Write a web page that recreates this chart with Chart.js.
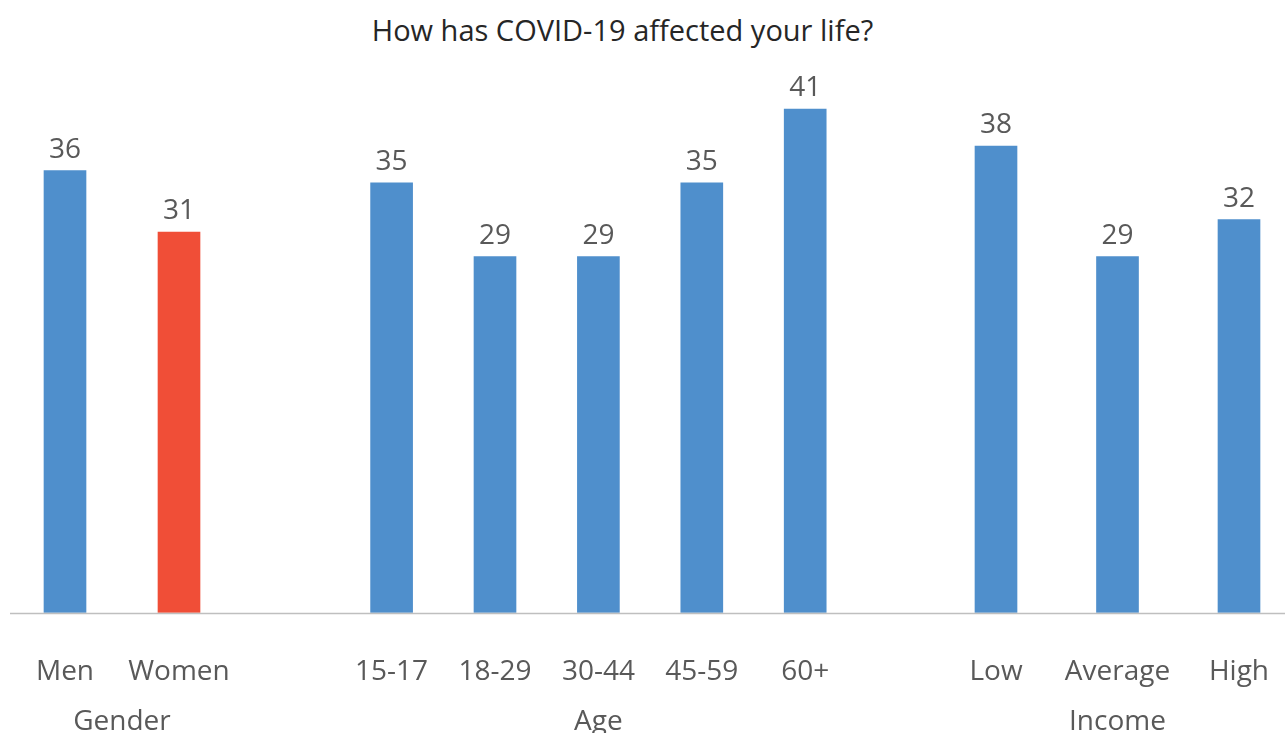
<!DOCTYPE html>
<html>
<head>
<meta charset="utf-8">
<script src="https://cdn.jsdelivr.net/npm/chart.js@4/dist/chart.umd.min.js"></script>
<style>
    html, body { margin: 0; padding: 0; background: #fff; overflow: hidden; width: 1285px; height: 733px; }
    #page { position: relative; width: 1285px; height: 733px; }
    #title {
        position: absolute; left: 0; top: 11px; width: 1245px;
        text-align: center; font: 29px "Open Sans", sans-serif; color: #262626; line-height: 38px;
    }
    canvas { position: absolute; top: 0; }
</style>
</head>
<body>
<div id="page">
    <div id="title">How has COVID-19 affected your life?</div>
    <canvas id="gender" width="287" height="740" style="left:0px"></canvas>
    <canvas id="age" width="606" height="740" style="left:287px"></canvas>
    <canvas id="income" width="407" height="740" style="left:893px"></canvas>
</div>
<script>
// survey shares, one group per panel
const genderLabels = ['Men', 'Women']
const genderValues = [36, 31]
const ageLabels = ['15-17', '18-29', '30-44', '45-59', '60+']
const ageValues = [35, 29, 29, 35, 41]
const incomeLabels = ['Low', 'Average', 'High']
const incomeValues = [38, 29, 32]

const BLUE = '#4F8FCC'
const RED = '#F04E37'
const TEXT = '#595959'
const FONT = '"Open Sans", sans-serif'

// baseline across the whole canvas, at the zero of the y scale
const baseLine = {
    id: 'baseLine',
    afterDatasetsDraw(chart, args, options) {
        const { ctx } = chart
        const y = Math.round(chart.scales.y.getPixelForValue(0)) + 0.5
        ctx.save()
        ctx.strokeStyle = '#BFBFBF'
        ctx.lineWidth = 1.5
        ctx.beginPath()
        ctx.moveTo(options.from || 0, y)
        ctx.lineTo(chart.width, y)
        ctx.stroke()
        ctx.restore()
    }
}

// number above each bar
const valueLabels = {
    id: 'valueLabels',
    afterDatasetsDraw(chart) {
        const { ctx } = chart
        const meta = chart.getDatasetMeta(0)
        const values = chart.data.datasets[0].data
        ctx.save()
        ctx.font = `28px ${FONT}`
        ctx.fillStyle = TEXT
        ctx.textAlign = 'center'
        ctx.textBaseline = 'alphabetic'
        meta.data.forEach((bar, i) => {
            ctx.fillText(values[i], bar.x, bar.y - 13)
        })
        ctx.restore()
    }
}

function makeChart(id, labels, values, group, colors, pad, lineFrom) {
    return new Chart(document.getElementById(id), {
        type: 'bar',
        data: {
            labels: labels,
            datasets: [{
                data: values,
                backgroundColor: colors,
                barThickness: 42
            }]
        },
        options: {
            responsive: false,
            animation: false,
            layout: { padding: { top: 60, bottom: 0, left: pad[0], right: pad[1] } },
            plugins: {
                legend: { display: false },
                tooltip: { enabled: false },
                baseLine: { from: lineFrom }
            },
            scales: {
                y: { display: false, min: 0, max: 45 },
                x: {
                    // invisible tick marks push the labels down from the baseline
                    grid: { display: true, drawOnChartArea: false, drawTicks: true, tickLength: 42, color: 'rgba(0,0,0,0)' },
                    border: { display: false },
                    ticks: {
                        color: TEXT,
                        padding: 0,
                        maxRotation: 0,
                        autoSkip: false,
                        font: { family: FONT, size: 28 }
                    },
                    title: {
                        display: true,
                        text: group,
                        color: TEXT,
                        padding: { top: 17, bottom: 1 },
                        font: { family: FONT, size: 28 }
                    }
                }
            }
        },
        plugins: [baseLine, valueLabels]
    })
}

function drawAll() {
    makeChart('gender', genderLabels, genderValues, 'Gender', [BLUE, RED], [8, 51], 10)
    makeChart('age', ageLabels, ageValues, 'Age', BLUE, [52.9, 36.1], 0)
    makeChart('income', incomeLabels, incomeValues, 'Income', BLUE, [42.25, 0.25], 0)
}

document.fonts.load(`28px ${FONT}`).then(drawAll, drawAll)
</script>
</body>
</html>
